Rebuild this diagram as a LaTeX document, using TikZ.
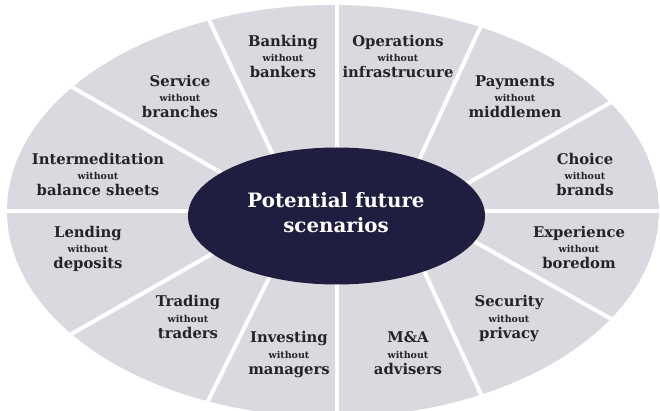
\documentclass[tikz,border=0pt]{standalone}
\usepackage{fontspec}
\setmainfont{DejaVu Serif}
\usetikzlibrary{calc}

\definecolor{sectorgray}{HTML}{DAD9DF}
\definecolor{hubnavy}{HTML}{1F1D40}
\definecolor{inkgray}{HTML}{242424}

\tikzset{
  headword/.style={font=\bfseries\fontsize{14.8}{15}\selectfont, text=inkgray, inner sep=0pt},
  linkword/.style={font=\bfseries\fontsize{9.5}{10}\selectfont, text=inkgray, inner sep=0pt},
  divider/.style={draw=white, line width=4pt, shorten <=-40pt, shorten >=-40pt},
  hubtext/.style={font=\bfseries\fontsize{19.8}{21}\selectfont, text=white, inner sep=0pt}
}

% one scenario: name, x, baseline y of "without", first word, last word
\newcommand\scenario[5]{%
  \node[headword, anchor=base] (#1-top) at (#2,#3-15.5) {#4};
  \node[linkword, anchor=base] (#1-mid) at (#2,#3) {without};
  \node[headword, anchor=base] (#1-bot) at (#2,#3+16) {#5};
}

\begin{document}
\begin{tikzpicture}[x=1pt, y=-1pt]
  \useasboundingbox (0,0) rectangle (660,411);

  % outer ring of sectors
  \begin{scope}
    \clip (333,211) ellipse [x radius=326, y radius=206];
    \fill[sectorgray] (333,211) ellipse [x radius=326, y radius=206];
    % straight dividers
    \draw[divider] (336.5,300) -- (336.5,0);
    \draw[divider] (336.5,300) -- (336.5,420);
    \draw[divider] (300,211.5) -- (0,211.5);
    \draw[divider] (380,211.5) -- (660,211.5);
    % slanted dividers
    \draw[divider] (220,172) -- (72,87);
    \draw[divider] (272,153) -- (210,22);
    \draw[divider] (420,158) -- (480,28);
    \draw[divider] (468,183) -- (615,100);
    \draw[divider] (210,255) -- (75,332);
    \draw[divider] (267,282) -- (210,397);
    \draw[divider] (425,273) -- (480,392);
    \draw[divider] (477,243) -- (613,320);
  \end{scope}

  % central hub
  \fill[hubnavy] (336.5,216) ellipse [x radius=148.5, y radius=68.5];
  \node[hubtext, anchor=base] (hub-top) at (336,208) {Potential future};
  \node[hubtext, anchor=base] (hub-bot) at (336,233) {scenarios};

  % scenario labels
  \scenario{banking}{283}{62}{Banking}{bankers}
  \scenario{service}{180}{102}{Service}{branches}
  \scenario{interm}{98}{180}{Intermeditation}{balance sheets}
  \scenario{operations}{398}{62}{Operations}{infrastrucure}
  \scenario{payments}{515}{102}{Payments}{middlemen}
  \scenario{choice}{585}{180}{Choice}{brands}
  \scenario{lending}{88}{253}{Lending}{deposits}
  \scenario{trading}{188}{322}{Trading}{traders}
  \scenario{investing}{289}{358}{Investing}{managers}
  \scenario{manda}{408}{358}{M\&A}{advisers}
  \scenario{security}{509}{322}{Security}{privacy}
  \scenario{experience}{579}{253}{Experience}{boredom}
\end{tikzpicture}
\end{document}
